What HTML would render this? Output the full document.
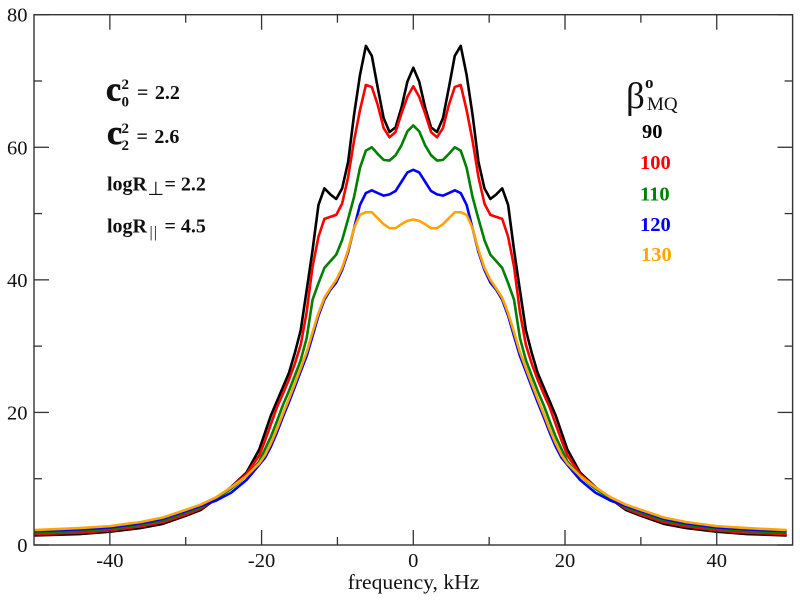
<!DOCTYPE html>
<html lang="en">
<head>
<meta charset="utf-8">
<title>Spectra vs beta MQ</title>
<style>
html,body{margin:0;padding:0;background:#fff;}
svg{display:block;font-family:"Liberation Serif",serif;}
</style>
</head>
<body>
<svg id="chart" xmlns="http://www.w3.org/2000/svg" width="800" height="602" viewBox="0 0 800 602">
  <rect x="0" y="0" width="800" height="602" fill="#fff"/>
  <g id="series-layer"></g>
  <rect x="34" y="14.7" width="758.6" height="530.3" fill="none" stroke="#333" stroke-width="1.4"/>
  <g id="tick-layer"></g>
  <text x="413.5" y="589" font-size="21.6" text-anchor="middle" fill="#111">frequency, kHz</text>

  <g fill="#111" font-weight="bold">
    <g>
      <text x="106" y="100.5" font-size="34" stroke="#111" stroke-width="0.7">c</text>
      <text x="121.5" y="89" font-size="15">2</text>
      <text x="121.5" y="106.5" font-size="15">0</text>
      <text x="137" y="99" font-size="20" word-spacing="1.5">= 2.2</text>
    </g>
    <g>
      <text x="107" y="144" font-size="34" stroke="#111" stroke-width="0.7">c</text>
      <text x="121.5" y="133" font-size="15">2</text>
      <text x="121.5" y="150" font-size="15">2</text>
      <text x="136.5" y="143" font-size="20" word-spacing="1.5">= 2.6</text>
    </g>
    <g>
      <text x="107" y="190.5" font-size="20">logR</text>
      <text x="147.5" y="195" font-size="19" font-weight="normal" font-family="'DejaVu Sans',sans-serif">⊥</text>
      <text x="164.5" y="190.5" font-size="20">= 2.2</text>
    </g>
    <g>
      <text x="107" y="232.5" font-size="20">logR</text>
      <text x="149.5" y="237" font-size="16" font-weight="normal" letter-spacing="1">||</text>
      <text x="164.5" y="232.5" font-size="20">= 4.5</text>
    </g>
  </g>

  <g font-weight="bold">
    <g fill="#111">
      <text x="626" y="108" font-size="37" font-weight="normal">β</text>
      <text x="645" y="88" font-size="17">o</text>
      <text x="647" y="110" font-size="19" font-weight="normal">MQ</text>
    </g>
    <text x="642" y="138" font-size="20.5" fill="#000000">90</text>
    <text x="640" y="169" font-size="20.5" fill="#ff0000">100</text>
    <text x="640" y="200.5" font-size="20.5" fill="#008000">110</text>
    <text x="640" y="231" font-size="20.5" fill="#0000ff">120</text>
    <text x="641" y="261" font-size="20.5" fill="#ffa500">130</text>
  </g>
</svg>
<script>
const frequencies = [-50,-44,-40,-36,-33,-30,-28,-26,-24,-22,-20.31,-19.53,-18.75,-17.97,-17.19,-16.41,-15.63,-14.84,-14.06,-13.28,-12.5,-11.72,-10.94,-10.16,-9.38,-8.59,-7.81,-7.03,-6.25,-5.47,-4.69,-3.91,-3.13,-2.34,-1.56,-0.78,0,0.78,1.56,2.34,3.13,3.91,4.69,5.47,6.25,7.03,7.81,8.59,9.38,10.16,10.94,11.72,12.5,13.28,14.06,14.84,15.63,16.41,17.19,17.97,18.75,19.53,20.31,22,24,26,28,30,33,36,40,44,49.22];
const beta90 = [1.45,1.65,2.0,2.55,3.2,4.4,5.3,7.0,8.75,10.9,14.4,17,19.6,21.7,23.8,25.9,28.9,32.4,38.4,44.5,51.3,53.8,52.9,52.2,53.8,57.8,64.9,70.9,75.3,73.8,69,64.4,62.3,63,66,69.9,72,69.9,66,63,62.3,64.4,69,73.8,75.3,70.9,64.9,57.8,53.8,52.2,52.9,53.8,51.3,44.5,38.4,32.4,28.9,25.9,23.8,21.7,19.6,17,14.4,10.9,8.75,7.0,5.3,4.4,3.2,2.55,2.0,1.65,1.45];
const beta100 = [1.65,1.85,2.2,2.8,3.45,4.6,5.5,7.0,8.7,10.7,13.5,15.8,18.3,20.8,22.8,24.9,27.3,30.2,35.1,42,46.5,49.2,49.5,49.8,51.5,55.5,61,65.6,69.4,69.1,66.4,62.9,61.5,62.3,65.1,67.6,69.2,67.6,65.1,62.3,61.5,62.9,66.4,69.1,69.4,65.6,61,55.5,51.5,49.8,49.5,49.2,46.5,42,35.1,30.2,27.3,24.9,22.8,20.8,18.3,15.8,13.5,10.7,8.7,7.0,5.5,4.6,3.45,2.8,2.2,1.85,1.65];
const beta110 = [1.9,2.1,2.45,3.05,3.7,4.9,5.7,7.0,8.5,10.4,12.6,14.5,16.4,18.7,21.1,23.2,25.5,27.9,31.2,37,39.5,41.8,42.8,43.8,46,49.2,52.5,56.9,59.5,60,59,58.1,58,58.8,60.3,62.4,63.3,62.4,60.3,58.8,58,58.1,59,60,59.5,56.9,52.5,49.2,46,43.8,42.8,41.8,39.5,37,31.2,27.9,25.5,23.2,21.1,18.7,16.4,14.5,12.6,10.4,8.5,7.0,5.7,4.9,3.7,3.05,2.45,2.1,1.9];
const beta120 = [2.1,2.35,2.65,3.25,3.95,5.1,5.9,6.7,7.9,9.8,12.1,13.2,14.9,17,19.3,21.5,23.8,26.2,28.5,31.5,34.6,37,38.5,39.6,41.5,44.2,47.8,51.3,53.1,53.5,53.1,52.7,52.9,53.4,54.8,56.2,56.6,56.2,54.8,53.4,52.9,52.7,53.1,53.5,53.1,51.3,47.8,44.2,41.5,39.6,38.5,37,34.6,31.5,28.5,26.2,23.8,21.5,19.3,17,14.9,13.2,12.1,9.8,7.9,6.7,5.9,5.1,3.95,3.25,2.65,2.35,2.1];
const beta130 = [2.25,2.55,2.85,3.45,4.15,5.3,6.1,7.2,8.7,10.4,12.3,13.6,15.4,17.5,19.8,22,24.3,26.7,29.1,32.1,35,37.3,38.7,40,41.8,44.5,47.8,49.8,50.2,50.2,49.3,48.4,47.8,47.8,48.4,48.9,49.1,48.9,48.4,47.8,47.8,48.4,49.3,50.2,50.2,49.8,47.8,44.5,41.8,40,38.7,37.3,35,32.1,29.1,26.7,24.3,22,19.8,17.5,15.4,13.6,12.3,10.4,8.7,7.2,6.1,5.3,4.15,3.45,2.85,2.55,2.25];
const xMajorTicks = [-40,-20,0,20,40];
const xMinorTicks = [-30,-10,10,30];
const yMajorTicks = [0,20,40,60,80];
const yMinorTicks = [10,30,50,70];

const NS = 'http://www.w3.org/2000/svg';
const plot = {left:34, right:792.6, top:14.7, bottom:545};
function xScale(v){ return plot.left + (v + 50) / 100 * (plot.right - plot.left); }
function yScale(v){ return plot.bottom - v / 80 * (plot.bottom - plot.top); }

const seriesLayer = document.getElementById('series-layer');
const tickLayer = document.getElementById('tick-layer');

function drawSeries(values, color, name){
  const path = document.createElementNS(NS, 'path');
  path.setAttribute('d', values.map(function(v, i){
    return (i ? 'L' : 'M') + xScale(frequencies[i]).toFixed(2) + ' ' + yScale(v).toFixed(2);
  }).join(' '));
  path.setAttribute('fill', 'none');
  path.setAttribute('stroke', color);
  path.setAttribute('stroke-width', '2.6');
  path.setAttribute('stroke-linejoin', 'round');
  
  
  seriesLayer.appendChild(path);
}
drawSeries(beta90, '#000000', 'series-beta-90');
drawSeries(beta100, '#ff0000', 'series-beta-100');
drawSeries(beta110, '#008000', 'series-beta-110');
drawSeries(beta120, '#0000ff', 'series-beta-120');
drawSeries(beta130, '#ffa500', 'series-beta-130');

function tickLine(x1, y1, x2, y2, name){
  const line = document.createElementNS(NS, 'line');
  line.setAttribute('x1', x1);
  line.setAttribute('y1', y1);
  line.setAttribute('x2', x2);
  line.setAttribute('y2', y2);
  line.setAttribute('stroke', '#333');
  line.setAttribute('stroke-width', '1.3');
  
  
  tickLayer.appendChild(line);
}
function tickLabel(x, y, text, anchor, name){
  const label = document.createElementNS(NS, 'text');
  label.setAttribute('x', x);
  label.setAttribute('y', y);
  label.setAttribute('font-size', '20.5');
  label.setAttribute('fill', '#111');
  label.setAttribute('text-anchor', anchor);
  label.textContent = text;
  
  
  tickLayer.appendChild(label);
}
xMajorTicks.forEach(function(v){
  const x = xScale(v);
  tickLine(x, plot.bottom, x, plot.bottom - 15, 'x-major-tick');
  tickLine(x, plot.top, x, plot.top + 15, 'x-major-tick-top');
  tickLabel(x, 567, String(v), 'middle', 'x-tick-label');
});
xMinorTicks.forEach(function(v){
  const x = xScale(v);
  tickLine(x, plot.bottom, x, plot.bottom - 8, 'x-minor-tick');
  tickLine(x, plot.top, x, plot.top + 8, 'x-minor-tick-top');
});
yMajorTicks.forEach(function(v){
  const y = yScale(v);
  tickLine(plot.left, y, plot.left + 15, y, 'y-major-tick');
  tickLine(plot.right, y, plot.right - 15, y, 'y-major-tick-right');
  tickLabel(27.5, y + 7, String(v), 'end', 'y-tick-label');
});
yMinorTicks.forEach(function(v){
  const y = yScale(v);
  tickLine(plot.left, y, plot.left + 8, y, 'y-minor-tick');
  tickLine(plot.right, y, plot.right - 8, y, 'y-minor-tick-right');
});
</script>
</body>
</html>
